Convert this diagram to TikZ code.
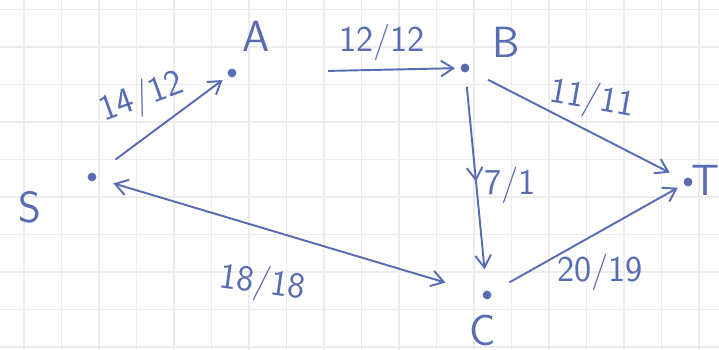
\documentclass[tikz,border=0pt]{standalone}
\usetikzlibrary{arrows.meta,decorations.markings}

\definecolor{ink}{RGB}{88,108,178}

\begin{document}
\begin{tikzpicture}[x=0.02cm,y=0.02cm,>={Straight Barb[length=7pt,width=9pt]},font=\sffamily]
    \tikzset{vertex/.style={circle, fill=ink, inner sep=0pt, minimum size=5pt},
        vname/.style={ink, font=\sffamily\Huge},
        capacity/.style={ink, font=\sffamily\huge},
        flow/.style={->, ink, line width=1.1pt},
        midarrow/.style={postaction={decorate}, decoration={markings,
            mark=at position 0.5 with {\arrow{>}}}}}

    % graph paper
    \useasboundingbox (0,0) rectangle (719,350);
    \fill[white] (0,0) rectangle (719,350);
    \foreach \gx in {0,...,19}
        \draw[gray!15, line width=0.8pt] (24+37.5*\gx,0) -- (24+37.5*\gx,350);
    \foreach \gy in {0,...,9}
        \draw[gray!15, line width=0.8pt] (0,3+37.5*\gy) -- (719,3+37.5*\gy);

    % vertices
    \node[vertex] (s) at (92,173) {};
    \node[vertex] (a) at (232,277) {};
    \node[vertex] (b) at (465,282) {};
    \node[vertex] (t) at (688,168) {};
    \node[vertex] (c) at (487,55) {};

    \node[vname] (sname) at (30,143) {S};
    \node[vname] (aname) at (256,314) {A};
    \node[vname] (bname) at (506,308) {B};
    \node[vname] (tname) at (705,170) {T};
    \node[vname] (cname) at (483,20) {C};

    % edges
    \draw[flow, shorten <=14pt, shorten >=4pt] (s) -- (a);
    \draw[flow, shorten <=52pt, shorten >=3pt] (a) -- (b);
    \draw[flow, shorten <=12pt, shorten >=9pt] (b) -- (t);
    \draw[flow, midarrow, shorten <=8pt, shorten >=12pt] (b) -- (c);
    \draw[flow, shorten <=12pt, shorten >=4pt] (c) -- (t);
    \draw[<->, ink, line width=1.1pt, shorten <=10pt, shorten >=22pt] (s) -- (c);

    % capacities
    \node[capacity, rotate=20] (sa) at (142,252) {14/12};
    \node[capacity] (ab) at (382,308) {12/12};
    \node[capacity, rotate=-10] (bt) at (592,250) {11/11};
    \node[capacity] (bc) at (510,165) {7/1};
    \node[capacity] (ct) at (600,78) {20/19};
    \node[capacity, rotate=-8] (cs) at (262,66) {18/18};
\end{tikzpicture}
\end{document}
